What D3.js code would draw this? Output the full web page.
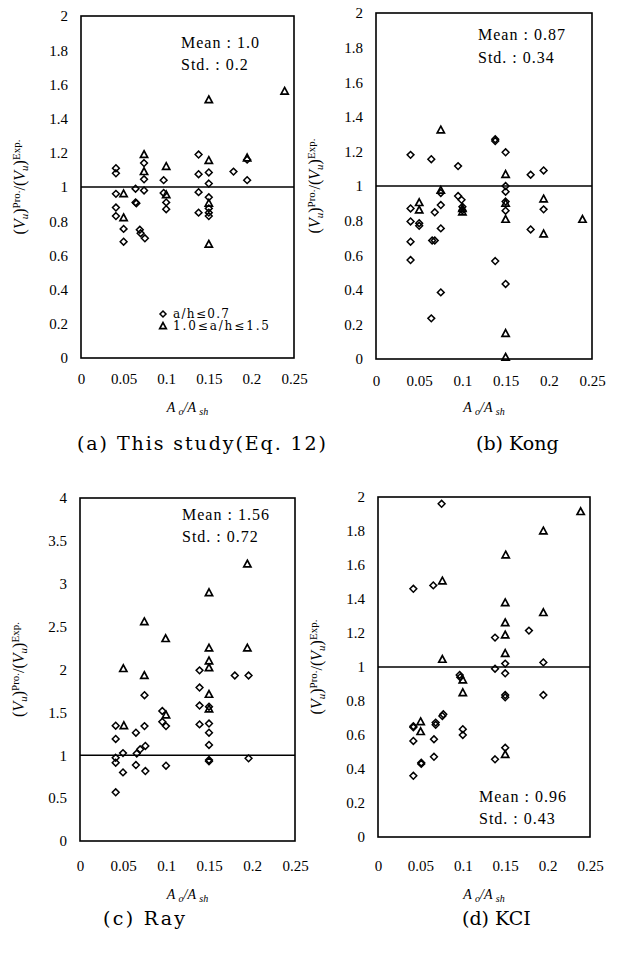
<!DOCTYPE html>
<html><head><meta charset="utf-8">
<script src="https://cdn.jsdelivr.net/npm/d3@7"></script>
<style>body{margin:0;background:#fff}svg{display:block}</style>
</head><body>
<script>
// ---------------- DATA ----------------
const xTicks = [0, 0.05, 0.1, 0.15, 0.2, 0.25];
const xTickLabels = ["0", "0.05", "0.1", "0.15", "0.2", "0.25"];
const yTicks2 = [0, 0.2, 0.4, 0.6, 0.8, 1, 1.2, 1.4, 1.6, 1.8, 2];
const yTickLabels2 = ["0", "0.2", "0.4", "0.6", "0.8", "1", "1.2", "1.4", "1.6", "1.8", "2"];
const yTicks4 = [0, 0.5, 1, 1.5, 2, 2.5, 3, 3.5, 4];
const yTickLabels4 = ["0", "0.5", "1", "1.5", "2", "2.5", "3", "3.5", "4"];

// (a) This study
const diamondsA = [[0.041,1.11],[0.041,1.08],[0.041,0.96],[0.041,0.88],[0.041,0.83],
  [0.050,0.755],[0.050,0.68],[0.064,0.99],[0.064,0.91],[0.065,0.905],
  [0.069,0.75],[0.070,0.73],[0.075,0.70],[0.074,1.14],[0.074,1.045],[0.074,0.98],
  [0.097,1.04],[0.097,0.965],[0.100,0.91],[0.100,0.87],
  [0.138,1.19],[0.138,1.075],[0.138,0.97],[0.138,0.85],
  [0.150,1.085],[0.150,1.02],[0.150,0.94],[0.150,0.875],[0.150,0.85],[0.150,0.83],
  [0.179,1.09],[0.195,1.16],[0.195,1.04]];
const trianglesA = [[0.050,0.96],[0.050,0.82],[0.074,1.19],[0.074,1.09],[0.100,1.12],[0.100,0.955],
  [0.150,1.51],[0.150,1.155],[0.150,0.905],[0.150,0.665],[0.195,1.17],[0.239,1.56]];
const statsA = ["Mean : 1.0", "Std. : 0.2"];

// (b) Kong
const diamondsB = [[0.040,1.18],[0.064,1.155],[0.095,1.115],[0.138,1.27],[0.138,1.26],[0.150,1.195],
  [0.179,1.065],[0.194,1.09],[0.040,0.87],[0.040,0.795],[0.040,0.678],[0.040,0.572],
  [0.050,0.785],[0.050,0.77],[0.065,0.685],[0.068,0.685],[0.064,0.235],[0.068,0.848],
  [0.075,0.96],[0.075,0.89],[0.075,0.755],[0.075,0.385],[0.095,0.942],[0.099,0.92],
  [0.100,0.88],[0.100,0.86],[0.138,0.566],[0.150,1.0],[0.150,0.967],[0.150,0.91],
  [0.150,0.857],[0.150,0.434],[0.179,0.749],[0.194,0.865]];
const trianglesB = [[0.075,1.324],[0.075,0.975],[0.050,0.904],[0.050,0.861],[0.100,0.85],[0.100,0.87],
  [0.150,1.067],[0.150,0.9],[0.150,0.807],[0.150,0.148],[0.150,0.01],[0.194,0.925],[0.194,0.723],[0.239,0.807]];
const statsB = ["Mean : 0.87", "Std. : 0.34"];

// (c) Ray
const diamondsC = [[0.0415,1.345],[0.0415,1.19],[0.0415,0.97],[0.0415,0.913],[0.0415,0.568],
  [0.050,1.025],[0.050,0.80],[0.065,1.263],[0.065,0.886],[0.066,1.02],[0.070,1.069],
  [0.076,1.108],[0.075,1.70],[0.075,1.34],[0.076,0.816],[0.0957,1.516],[0.0957,1.39],
  [0.100,1.34],[0.100,0.878],[0.139,1.99],[0.139,1.79],[0.139,1.58],[0.139,1.36],
  [0.150,1.566],[0.150,1.37],[0.150,1.263],[0.150,1.12],[0.150,0.945],[0.150,0.93],
  [0.180,1.93],[0.196,1.93],[0.196,0.964]];
const trianglesC = [[0.0504,2.01],[0.051,1.345],[0.0748,2.557],[0.0748,1.93],[0.0996,2.36],[0.100,1.47],
  [0.150,2.896],[0.150,2.25],[0.150,2.10],[0.150,2.02],[0.150,1.71],[0.150,1.54],[0.1946,3.23],[0.1946,2.25]];
const statsC = ["Mean : 1.56", "Std. : 0.72"];

// (d) KCI
const diamondsD = [[0.075,1.96],[0.0417,1.46],[0.0652,1.48],[0.178,1.214],[0.138,1.173],[0.150,1.02],
  [0.195,1.027],[0.138,0.99],[0.150,0.963],[0.0963,0.953],[0.097,0.94],[0.195,0.835],
  [0.150,0.835],[0.150,0.822],[0.0759,0.712],[0.077,0.722],[0.068,0.673],[0.068,0.66],
  [0.0417,0.645],[0.0417,0.652],[0.0417,0.565],[0.066,0.575],[0.100,0.634],[0.100,0.60],
  [0.150,0.525],[0.138,0.457],[0.066,0.472],[0.051,0.437],[0.051,0.43],[0.0417,0.36]];
const trianglesD = [[0.239,1.914],[0.195,1.80],[0.1506,1.659],[0.0759,1.506],[0.150,1.378],[0.195,1.32],
  [0.150,1.26],[0.150,1.188],[0.150,1.08],[0.0759,1.045],[0.100,0.924],[0.100,0.849],
  [0.0503,0.678],[0.0503,0.62],[0.150,0.485]];
const statsD = ["Mean : 0.96", "Std. : 0.43"];

const captions = ["(a) This study(Eq. 12)", "(b) Kong", "(c) Ray", "(d) KCI"];
const legendLabels = ["a/h\u22640.7", "1.0\u2264a/h\u22641.5"];
const refValue = 1;

// ---------------- LAYOUT ----------------
const W = 618, H = 956;
const serif = "'Liberation Serif','Times New Roman',serif";
const capFont = "'DejaVu Serif',serif";
const svg = d3.select("body").append("svg").attr("width", W).attr("height", H)
  .style("font-family", serif);

const panels = [
  {L:81, R:294, T:16, B:358, yMax:2, yt:yTicks2, ytl:yTickLabels2, dia:diamondsA, tri:trianglesA, stats:statsA,
   sx:181, sy:[48,70], xlOff:25, xLabY:412, cap:captions[0], capX:77, capLen:249, capY:450, legend:true},
  {L:376, R:592, T:13, B:359, yMax:2, yt:yTicks2, ytl:yTickLabels2, dia:diamondsB, tri:trianglesB, stats:statsB,
   sx:478, sy:[40,63], xlOff:26, xLabY:412, cap:captions[1], capX:476, capLen:null, capY:450},
  {L:80, R:295, T:498, B:841, yMax:4, yt:yTicks4, ytl:yTickLabels4, dia:diamondsC, tri:trianglesC, stats:statsC,
   sx:182, sy:[520,542], xlOff:29, xLabY:899, cap:captions[2], capX:103, capLen:82, capY:925},
  {L:378, R:590, T:497, B:837, yMax:2, yt:yTicks2, ytl:yTickLabels2, dia:diamondsD, tri:trianglesD, stats:statsD,
   sx:479, sy:[802,824], xlOff:33, xLabY:899, cap:captions[3], capX:462, capLen:null, capY:925}
];

const diamondPath = r => `M0,${-r}L${r},0L0,${r}L${-r},0Z`;
const trianglePath = s => `M0,${-s*1.05}L${s},${s*0.8}L${-s},${s*0.8}Z`;

panels.forEach(p => {
  const g = svg.append("g");
  const x = d3.scaleLinear().domain([0, 0.25]).range([p.L, p.R]);
  const y = d3.scaleLinear().domain([0, p.yMax]).range([p.B, p.T]);

  const ax = g.append("g").attr("transform", `translate(0,${p.B})`)
    .call(d3.axisBottom(x).tickValues(xTicks).tickFormat((d,i) => xTickLabels[i]).tickSize(0).tickPadding(p.xlOff - 10));
  ax.select(".domain").remove();
  ax.selectAll("text").attr("font-size", 15).attr("font-family", serif).attr("fill", "#000");

  const ay = g.append("g").attr("transform", `translate(${p.L},0)`)
    .call(d3.axisLeft(y).tickValues(p.yt).tickFormat((d,i) => p.ytl[i]).tickSize(0).tickPadding(13));
  ay.select(".domain").remove();
  ay.selectAll("text").attr("font-size", 15).attr("font-family", serif).attr("fill", "#000");

  g.append("line").attr("x1", p.L).attr("x2", p.R).attr("y1", y(refValue)).attr("y2", y(refValue))
    .attr("stroke", "#000").attr("stroke-width", 1.5);

  g.append("rect").attr("x", p.L).attr("y", p.T).attr("width", p.R - p.L).attr("height", p.B - p.T)
    .attr("fill", "none").attr("stroke", "#000").attr("stroke-width", 1.6);

  g.append("g").selectAll("path").data(p.dia).join("path")
    .attr("transform", d => `translate(${x(d[0])},${y(d[1])})`)
    .attr("d", diamondPath(3.4)).attr("fill", "none").attr("stroke", "#000").attr("stroke-width", 1.5);
  g.append("g").selectAll("path").data(p.tri).join("path")
    .attr("transform", d => `translate(${x(d[0])},${y(d[1])})`)
    .attr("d", trianglePath(3.6)).attr("fill", "none").attr("stroke", "#000").attr("stroke-width", 1.7)
    .attr("stroke-linejoin", "miter");

  p.stats.forEach((s, i) => {
    g.append("text").attr("x", p.sx).attr("y", p.sy[i]).attr("font-size", 16)
      .attr("letter-spacing", 1).text(s);
  });

  // y label
  const cy = (p.T + p.B) / 2;
  const lx = p.L - 56;
  const yl = g.append("text").attr("transform", `translate(${lx},${cy}) rotate(-90)`)
    .attr("text-anchor", "middle").attr("font-size", 16);
  yl.append("tspan").text("(");
  yl.append("tspan").attr("font-style", "italic").text("V");
  yl.append("tspan").attr("font-style", "italic").attr("font-size", 11).attr("dy", 3).text("u");
  yl.append("tspan").attr("dy", -3).text(")");
  yl.append("tspan").attr("font-size", 11).attr("dy", -5).text("Pro.");
  yl.append("tspan").attr("dy", 5).text("/(");
  yl.append("tspan").attr("font-style", "italic").text("V");
  yl.append("tspan").attr("font-style", "italic").attr("font-size", 11).attr("dy", 3).text("u");
  yl.append("tspan").attr("dy", -3).text(")");
  yl.append("tspan").attr("font-size", 11).attr("dy", -5).text("Exp.");

  // x label
  const xl = g.append("text").attr("x", (p.L + p.R) / 2).attr("y", p.xLabY)
    .attr("text-anchor", "middle").attr("font-size", 14).attr("font-style", "italic");
  xl.append("tspan").text("A ");
  xl.append("tspan").attr("font-size", 10).attr("dy", 3).text("o");
  xl.append("tspan").attr("dy", -3).text("/A ");
  xl.append("tspan").attr("font-size", 10).attr("dy", 3).text("sh");

  // caption
  const ct = g.append("text").attr("x", p.capX).attr("y", p.capY).attr("font-size", 19)
    .attr("font-family", capFont).text(p.cap);
  if (p.capLen) ct.attr("textLength", p.capLen).attr("lengthAdjust", "spacing");

  // legend
  if (p.legend) {
    g.append("path").attr("transform", "translate(163,314)").attr("d", diamondPath(3))
      .attr("fill", "none").attr("stroke", "#000").attr("stroke-width", 1.5);
    g.append("path").attr("transform", "translate(163,326)").attr("d", trianglePath(3.3))
      .attr("fill", "none").attr("stroke", "#000").attr("stroke-width", 1.7);
    g.append("text").attr("x", 173).attr("y", 318).attr("font-size", 12).attr("font-family", capFont)
      .attr("textLength", 56).attr("lengthAdjust", "spacing").text(legendLabels[0]);
    g.append("text").attr("x", 173).attr("y", 330).attr("font-size", 12).attr("font-family", capFont)
      .attr("textLength", 96).attr("lengthAdjust", "spacing").text(legendLabels[1]);
  }
});
</script>
</body></html>
